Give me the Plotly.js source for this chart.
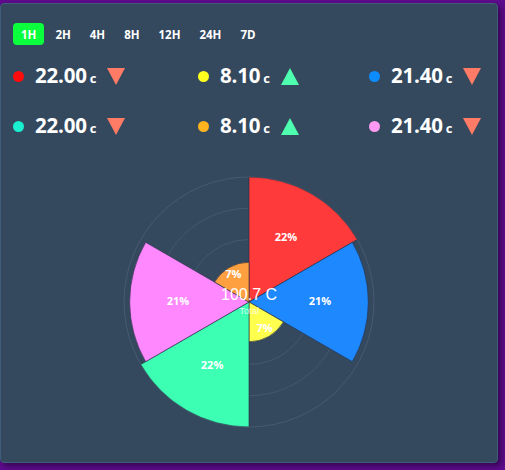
<!DOCTYPE html>
<html>
<head>
<meta charset="utf-8">
<script src="https://cdn.plot.ly/plotly-3.0.1.min.js"></script>
<style>
  html, body { margin:0; padding:0; }
  body { width:505px; height:470px; overflow:hidden; background:#5e0b8e; position:relative;
         font-family:"Open Sans", "DejaVu Sans", sans-serif; }
  #card { position:absolute; left:0; top:3px; width:496px; height:458px; background:#34495e;
          border:1px solid #3f5c78; border-radius:4px; box-shadow:3px 3px 6px rgba(0,0,0,0.45); }
  #btns { position:absolute; left:13px; top:23px; display:flex; gap:3px; z-index:3; }
  .btn { height:22px; padding:0 8px; display:flex; align-items:center; justify-content:center;
         color:#fff; font-weight:700; font-size:11.5px; border-radius:4px; }
  .btn.active { background:#0aff3c; }
  .cell { position:absolute; display:flex; align-items:center; height:22px; z-index:3; }
  .dot { width:11px; height:11px; border-radius:50%; margin-right:11px; }
  .val { color:#fff; font-weight:700; font-size:20.5px; line-height:22px; letter-spacing:-0.2px; }
  .unit { color:#fff; font-weight:700; font-size:13px; margin-left:3px; }
  .tri { width:0; height:0; margin-left:11px; border-left:9px solid transparent; border-right:9px solid transparent; }
  .tri.down { border-top:17px solid #ff7b66; }
  .tri.up { border-bottom:17px solid #4dffae; }
  #chart { position:absolute; left:0; top:0; width:505px; height:470px; z-index:2; }
</style>
</head>
<body>
<div id="card"></div>
<div id="btns"></div>
<div id="cells"></div>
<div id="chart"></div>
<script>
// ---- data ----
const timeRanges = ['1H', '2H', '4H', '8H', '12H', '24H', '7D'];
const activeRange = '1H';

const sensorColors = ['#ff0d0d', '#ffff1f', '#0d8cff', '#1af0d0', '#ffb41f', '#ff99f2'];
const sensorValues = ['22.00', '8.10', '21.40', '22.00', '8.10', '21.40'];
const sensorUnit = 'c';
const sensorTrends = ['down', 'up', 'down', 'down', 'up', 'down'];

const segmentNames = ['S1', 'S2', 'S3', 'S4', 'S5', 'S6'];
const segmentPct = [22, 21, 7, 22, 21, 7];
const segmentColors = ['#ff3a3a', '#1e88ff', '#ffff4d', '#3cffb4', '#ff88ff', '#ffa040'];
const totalText = '100.7 C';
const totalLabel = 'Total';
const radialMax = 22;
const gridVals = [5.5, 11, 16.5, 22];

// ---- controls ----
const btns = document.getElementById('btns');
timeRanges.forEach(t => {
  const b = document.createElement('div');
  b.className = 'btn' + (t === activeRange ? ' active' : '');
  b.textContent = t;
  btns.appendChild(b);
});

const colX = [13, 198, 369];
const rowY = [65, 115];
const cells = document.getElementById('cells');
sensorValues.forEach((v, i) => {
  const c = document.createElement('div');
  c.className = 'cell';
  c.style.left = colX[i % 3] + 'px';
  c.style.top = rowY[Math.floor(i / 3)] + 'px';
  c.innerHTML = '<div class="dot" style="background:' + sensorColors[i] + '"></div>' +
    '<span class="val">' + v + '<span class="unit">' + sensorUnit + '</span></span>' +
    '<div class="tri ' + sensorTrends[i] + '"></div>';
  cells.appendChild(c);
});

// ---- chart ----
const bars = {
  type: 'barpolar',
  theta: segmentNames,
  r: segmentPct,
  marker: { color: segmentColors, line: { color: 'rgba(35,45,65,0.6)', width: 1 } },
  hoverinfo: 'none',
  showlegend: false
};
const labels = {
  type: 'scatterpolar',
  mode: 'text',
  theta: segmentNames,
  r: segmentPct.map(v => v / 2 + 2),
  text: segmentPct.map(v => v + '%'),
  textfont: { color: '#ffffff', size: 11, family: 'Open Sans', weight: 700 },
  hoverinfo: 'none',
  showlegend: false
};

const cx = 249, cy = 302, R = 125, W = 505, H = 470;
const layout = {
  width: W, height: H,
  margin: { l: 0, r: 0, t: 0, b: 0 },
  paper_bgcolor: 'rgba(0,0,0,0)',
  plot_bgcolor: 'rgba(0,0,0,0)',
  showlegend: false,
  polar: {
    domain: { x: [(cx - R) / W, (cx + R) / W], y: [(H - cy - R) / H, (H - cy + R) / H] },
    bgcolor: 'rgba(0,0,0,0)',
    bargap: 0,
    radialaxis: {
      range: [0, radialMax], tickvals: gridVals, showticklabels: false, ticks: '',
      showline: false, gridcolor: '#44586f', gridwidth: 1, layer: 'below traces'
    },
    angularaxis: {
      type: 'category', categoryarray: segmentNames, direction: 'clockwise', rotation: 60,
      showgrid: false, showticklabels: false, ticks: '', showline: true,
      linecolor: '#465a71', linewidth: 1, layer: 'below traces'
    }
  },
  annotations: [
    { text: totalText, xref: 'paper', yref: 'paper', x: cx / W, y: 1 - 294 / H,
      showarrow: false, font: { family: 'Liberation Sans, Arial', size: 16, color: '#ffffff' } },
    { text: totalLabel, xref: 'paper', yref: 'paper', x: cx / W, y: 1 - 310 / H,
      showarrow: false, font: { family: 'Liberation Sans, Arial', size: 9.5, color: 'rgba(255,255,255,0.75)' } }
  ]
};

Plotly.newPlot('chart', [bars, labels], layout, { displayModeBar: false, staticPlot: true });
</script>
</body>
</html>
